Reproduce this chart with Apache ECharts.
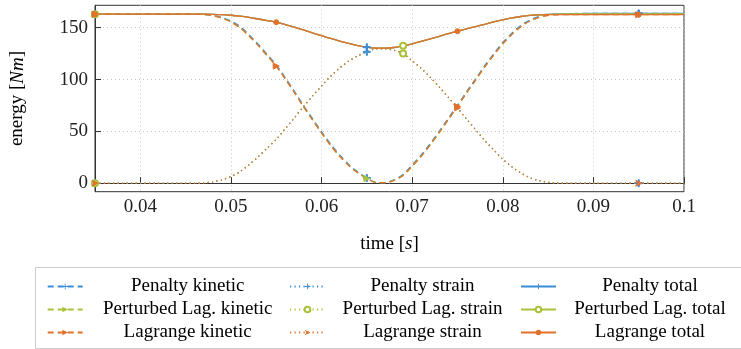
<!DOCTYPE html>
<html>
<head>
<meta charset="utf-8">
<script src="https://cdn.jsdelivr.net/npm/echarts@6/dist/echarts.min.js"></script>
<style>html,body{margin:0;padding:0;background:#fff}#c{width:741px;height:349px}</style>
</head>
<body>
<div id="c"></div>
<script>
// ---------- data ----------
const time = [0.035,0.040,0.045,0.046,0.047,0.048,0.049,0.050,0.051,0.052,0.053,0.054,0.055,0.056,0.057,0.058,0.059,0.060,0.061,0.062,0.063,0.064,0.065,0.066,0.067,0.068,0.069,0.070,0.071,0.072,0.073,0.074,0.075,0.076,0.077,0.078,0.079,0.080,0.081,0.082,0.083,0.084,0.085,0.086,0.087,0.090,0.095,0.100];

const penaltyKinetic   = [163,163,163,163,162.8,161.9,159.8,156.5,151.2,143.2,134.2,124.2,114.2,101.7,88.7,75.2,62.2,49.7,37.7,27.2,18,10.8,5,0.8,0.6,3.2,8.3,17.7,27.2,38.2,50.2,62.7,75.2,88.2,100.7,113.2,124.7,135.7,144.7,152.2,157.5,160.8,162.5,163.2,163.6,163.7,163.7,163.7];
const penaltyStrain    = [0,0,0,0,0.3,1.3,3.3,6.5,11.1,17.9,25.4,33.9,42.3,52.5,63,73.8,84,93.8,103.1,111.1,117.8,122.8,126.7,129.6,129.7,128.1,125,118,110.8,102.2,92.7,82.7,72.6,61.9,51.6,41.3,32.1,23.1,15.9,9.8,5.3,2.5,0.9,0.2,0,0,0,0];
const penaltyTotal     = [163,163,163,163,163,162.9,162.6,162,161.1,159.9,158.4,156.9,155.3,153,150.5,147.8,145,142.3,139.6,137.1,134.8,132.8,131.2,130.3,130.2,130.9,132.5,134.5,136.8,139.2,141.7,144.2,146.6,148.9,151.1,153.3,155.6,157.6,159.4,160.8,161.8,162.5,162.9,163.1,163.5,163.7,163.7,163.7];

const perturbedKinetic = [163,163,163,163,162.7,161.6,159.3,155.5,150,142,133,123,113,100.5,87.5,74,61,48.5,36.5,26,17,10,4.5,0.7,0.5,2.8,7.5,16.5,26,37,49,61.5,74,87,99.5,112,123.5,134.5,143.5,151,156.5,160,162,162.8,163.1,163.2,163.2,163.2];
const perturbedStrain  = [0,0,0,0,0.3,1.3,3.3,6.5,11.1,17.9,25.4,33.9,42.3,52.5,63,73.8,84,93.8,103.1,111.1,117.8,122.8,126.7,129.6,129.7,128.1,125,118,110.8,102.2,92.7,82.7,72.6,61.9,51.6,41.3,32.1,23.1,15.9,9.8,5.3,2.5,0.9,0.2,0,0,0,0];
const perturbedTotal   = [163,163,163,163,163,162.9,162.6,162,161.1,159.9,158.4,156.9,155.3,153,150.5,147.8,145,142.3,139.6,137.1,134.8,132.8,131.2,130.3,130.2,130.9,132.5,134.5,136.8,139.2,141.7,144.2,146.6,148.9,151.1,153.3,155.6,157.6,159.4,160.8,161.8,162.5,162.9,163,163.2,163.2,163.2,163.2];

const lagrangeKinetic  = [163,163,163,163,162.7,161.6,159.3,155.5,150,142,133,123,113,100.5,87.5,74,61,48.5,36.5,26,17,10,4.5,0.7,0.5,2.8,7.5,16.5,26,37,49,61.5,74,87,99.5,112,123.5,134.5,143.5,151,156.5,160,162,162.5,162.6,162.6,162.6,162.6];
const lagrangeStrain   = [0,0,0,0,0.3,1.3,3.3,6.5,11.1,17.9,25.4,33.9,42.3,52.5,63,73.8,84,93.8,103.1,111.1,117.8,122.8,126.7,129.6,129.7,128.1,125,118,110.8,102.2,92.7,82.7,72.6,61.9,51.6,41.3,32.1,23.1,15.9,9.8,5.3,2.5,0.9,0.2,0,0,0,0];
const lagrangeTotal    = [163,163,163,163,163,162.9,162.6,162,161.1,159.9,158.4,156.9,155.3,153,150.5,147.8,145,142.3,139.6,137.1,134.8,132.8,131.2,130.3,130.2,130.9,132.5,134.5,136.8,139.2,141.7,144.2,146.6,148.9,151.1,153.3,155.6,157.6,159.4,160.8,161.8,162.4,162.6,162.6,162.6,162.6,162.6,162.6];

// times at which markers are drawn
const penaltyMarks        = [0.035,0.065,0.095];
const perturbedKinMarks   = [0.035,0.065];
const perturbedMarks      = [0.035,0.069];
const lagrangeMarks       = [0.035,0.055,0.075,0.095];
const lagrangeStrainMarks = [0.035,0.075,0.095];

const xTicks = [0.04,0.05,0.06,0.07,0.08,0.09,0.1];
const yTicks = [0,50,100,150];

const seriesNames = [
  'Penalty kinetic','Penalty strain','Penalty total',
  'Perturbed Lag. kinetic','Perturbed Lag. strain','Perturbed Lag. total',
  'Lagrange kinetic','Lagrange strain','Lagrange total'
];

// ---------- styling ----------
const BLUE = '#3b8bd6', GREEN = '#abc13a', ORANGE = '#e2712a';
const FONT = '"Liberation Serif", "DejaVu Serif", serif';
const PLUS = 'path://M4.2,0h1.6v4.2h4.2v1.6h-4.2v4.2h-1.6v-4.2h-4.2v-1.6h4.2z';
const ARROW = 'path://M0,0L10,5L0,10L3,5Z';
const DASH = [6,4], DOT = [1.2,3.3];

function mk(values, marks) {
  return time.map((t, i) => {
    const on = marks.some(m => Math.abs(m - t) < 1e-9);
    return on ? { value: [t, values[i]] } : { value: [t, values[i]], symbol: 'none' };
  });
}

function line(name, values, marks, color, type, symbol, size, rotate) {
  return {
    name, type: 'line', data: mk(values, marks),
    smooth: 0.3, showSymbol: true, showAllSymbol: true,
    symbol, symbolSize: size, symbolRotate: rotate || 0,
    lineStyle: { color, width: 1.3, type },
    itemStyle: { color, borderColor: color },
    animation: false, silent: true
  };
}

const series = [
  line(seriesNames[0], penaltyKinetic, penaltyMarks, BLUE, DASH, PLUS, 7),
  line(seriesNames[1], penaltyStrain, penaltyMarks, BLUE, DOT, PLUS, 7),
  line(seriesNames[2], penaltyTotal, penaltyMarks, BLUE, 'solid', PLUS, 7),
  line(seriesNames[3], perturbedKinetic, perturbedKinMarks, GREEN, DASH, 'triangle', 6, -90),
  line(seriesNames[4], perturbedStrain, perturbedMarks, GREEN, DOT, 'emptyCircle', 6),
  line(seriesNames[5], perturbedTotal, perturbedMarks, GREEN, 'solid', 'emptyCircle', 6),
  line(seriesNames[6], lagrangeKinetic, lagrangeMarks, ORANGE, DASH, 'triangle', 6, -90),
  line(seriesNames[7], lagrangeStrain, lagrangeStrainMarks, ORANGE, DOT, ARROW, 6),
  line(seriesNames[8], lagrangeTotal, lagrangeMarks, ORANGE, 'solid', 'circle', 5)
];

function legendCol(names, left, w) {
  return {
    data: names, orient: 'vertical', left: left, top: 272,
    itemWidth: 35, itemHeight: 7, itemGap: 4, selectedMode: false,
    formatter: n => '{a|' + n + '}',
    textStyle: {
      fontFamily: FONT, fontSize: 19, color: '#000',
      rich: { a: { width: w, align: 'center', fontFamily: FONT, fontSize: 19, lineHeight: 20, color: '#000' } }
    }
  };
}

const chart = echarts.init(document.getElementById('c'), null, { renderer: 'canvas' });
chart.setOption({
  backgroundColor: '#fff',
  animation: false,
  grid: { left: 94.7, right: 57, top: 5.3, bottom: 157.3, show: true, borderColor: '#333', borderWidth: 1, containLabel: false },
  xAxis: {
    type: 'value', min: 0.035, max: 0.1,
    name: 'time [{i|s}]', nameLocation: 'middle', nameGap: 43,
    nameTextStyle: { fontFamily: FONT, fontSize: 19, color: '#000', rich: { i: { fontStyle: 'italic', fontFamily: FONT, fontSize: 19 } } },
    axisLine: { show: true, lineStyle: { color: '#333', width: 1 } },
    axisTick: { show: true, inside: true, length: 6, lineStyle: { color: '#333' }, customValues: xTicks },
    axisLabel: { fontFamily: FONT, fontSize: 19, color: '#222', margin: 6, customValues: xTicks, formatter: v => String(+v.toFixed(3)) },
    splitLine: { show: true, lineStyle: { color: '#c8c8c8', type: [1, 3], width: 1 } }
  },
  yAxis: {
    type: 'value', min: -8.2, max: 171.6,
    name: 'energy [{i|Nm}]', nameLocation: 'middle', nameGap: 68,
    nameTextStyle: { fontFamily: FONT, fontSize: 19, color: '#000', rich: { i: { fontStyle: 'italic', fontFamily: FONT, fontSize: 19 } } },
    axisLine: { show: true, lineStyle: { color: '#333', width: 1 } },
    axisTick: { show: true, inside: true, length: 6, lineStyle: { color: '#333' }, customValues: yTicks },
    axisLabel: { fontFamily: FONT, fontSize: 19, color: '#222', margin: 7, customValues: yTicks },
    splitLine: { show: true, lineStyle: { color: '#c8c8c8', type: [1, 3], width: 1 } }
  },
  legend: [
    legendCol([seriesNames[0], seriesNames[3], seriesNames[6]], 41.7, 200),
    legendCol([seriesNames[1], seriesNames[4], seriesNames[7]], 284, 185),
    legendCol([seriesNames[2], seriesNames[5], seriesNames[8]], 515, 178)
  ],
  graphic: [{
    type: 'rect', z: 0, silent: true,
    shape: { x: 35.5, y: 267.5, width: 720, height: 81 },
    style: { fill: '#fff', stroke: '#cccccc', lineWidth: 1 }
  }],
  series
});
</script>
</body>
</html>
